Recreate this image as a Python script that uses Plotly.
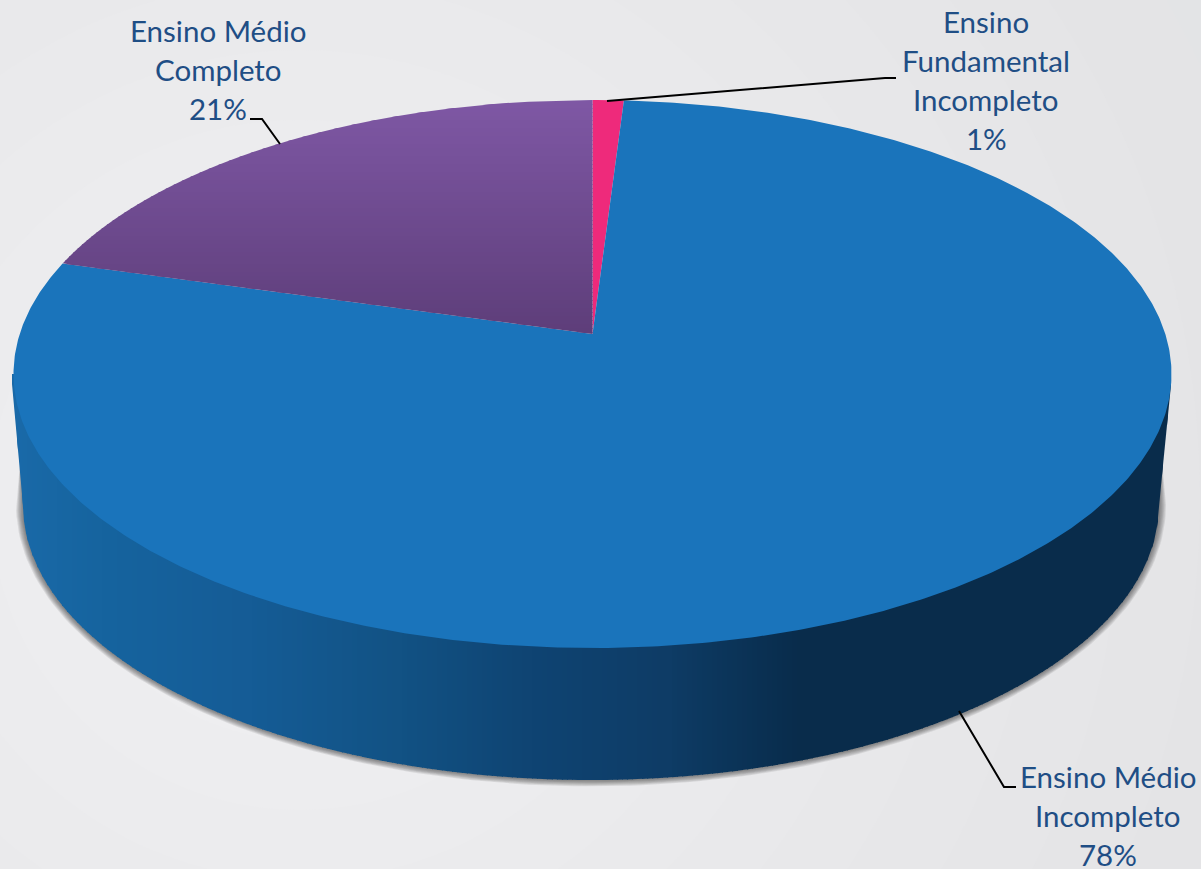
import numpy as np
import plotly.graph_objects as go

# ---- data ----
categories = ["Ensino Fundamental Incompleto", "Ensino Médio Incompleto", "Ensino Médio Completo"]
values = [1.0, 78.4, 20.6]
colors = ["#ee2a7b", "#1a74bb", "#7b57a1"]
label_lines = [
    ["Ensino", "Fundamental", "Incompleto", "1%"],
    ["Ensino Médio", "Incompleto", "78%"],
    ["Ensino Médio", "Completo", "21%"],
]
# ---- page geometry (pixels) ----
W, H = 1201, 869
CX, APEX_Y = 592.5, 334.0
TOP_Y, FRONT_Y = 100.0, 648.0
HALF_W = 579.0
up = APEX_Y - TOP_Y
dn = FRONT_Y - APEX_Y
K = (dn - up) / (dn + up)
B = up * (1 + K)
A = HALF_W * np.sqrt(1 - K * K)
BX, BY, BRX, BRY = 591.0, 505.0, 568.0, 275.0
label_pos = [(986, [21.5, 60.5, 99.5, 138.5]), (1108, [776.5, 815.5, 854.5]), (218, [30.5, 69.5, 108.5])]
leaders = [
    ([607, 885, 896], [101, 78, 78]),
    ([959, 1004, 1016], [711, 787, 787]),
    ([280, 262, 250], [144, 119, 119]),
]
TEXT = "#1f4e85"
wall_x = [12, 100, 250, 400, 530, 670, 800, 1201]
wall_rgb = [(26, 106, 169), (22, 100, 159), (21, 92, 150), (18, 82, 132),
            (15, 68, 115), (14, 60, 102), (9, 44, 75), (10, 44, 75)]
BG_C = (300, 500)
bg_r = [1000, 900, 820, 740, 660, 590, 520, 450, 380, 310, 240, 170]
bg_g = [228, 229, 230, 231, 232, 233, 234, 235, 236, 237, 238, 239]


def proj(theta):
    u, v = np.sin(theta), np.cos(theta)
    d = 1 + K * v
    return CX + A * u / d, APEX_Y - B * v / d


def add_poly(fig, x, y, color):
    fig.add_trace(go.Scatter(x=list(x), y=list(y), mode="lines", fill="toself", fillcolor=color,
                             line=dict(width=0), hoverinfo="skip", showlegend=False))


fig = go.Figure()

# shadow under the wall
s = np.linspace(np.pi, 0, 160)
for d in range(7, 0, -1):
    ox = BX + (BRX + d) * np.cos(s)
    oy = BY + (BRY + d * 0.9) * np.sin(s)
    px = np.r_[21, ox, 1161]
    py = np.r_[450, oy, 450]
    add_poly(fig, px, py, "rgba(50,50,50,0.10)")

# side wall, shaded strip by strip
edges = np.arange(12, 1172, 5.0)
for x0 in edges:
    x1 = min(x0 + 6, 1171)
    xs = np.linspace(x0, x1, 4)
    inner = np.clip((xs - BX) / BRX, -1, 1)
    ybot = BY + BRY * np.sqrt(1 - inner ** 2)
    ybot = np.where(xs < BX - BRX, 395 + (xs - 13) * 11, ybot)
    ybot = np.where(xs > BX + BRX, 505 - (xs - 1159) * 10, ybot)
    mid = x0 + 3
    rgb = [int(np.interp(mid, wall_x, [c[i] for c in wall_rgb])) for i in range(3)]
    add_poly(fig, np.r_[xs, xs[::-1]], np.r_[np.full(4, 374.0), ybot[::-1]], f"rgb({rgb[0]},{rgb[1]},{rgb[2]})")

# top face: wedges from the values, clockwise from 12 o'clock
fracs = np.array(values, dtype=float) / sum(values)
starts = np.r_[0, np.cumsum(fracs)[:-1]] * 2 * np.pi
ends = np.cumsum(fracs) * 2 * np.pi
for st, en, c, cat in zip(starts, ends, colors, categories):
    n = max(8, int((en - st) * 120))
    t = np.linspace(st, en, n)
    ex, ey = proj(t)
    if cat != "Ensino Médio Completo":
        add_poly(fig, np.r_[CX, ex, CX], np.r_[APEX_Y, ey, APEX_Y], c)
    else:
        # vertical gradient drawn as thin horizontal bands clipped to the wedge
        chord_y = np.linspace(ey[0], APEX_Y, 40)
        chord_x = ex[0] + (CX - ex[0]) * (chord_y - ey[0]) / (APEX_Y - ey[0])
        order = np.argsort(ey)
        ly = np.r_[ey[order], chord_y[1:]]
        lx = np.r_[ex[order], chord_x[1:]]
        order = np.argsort(ly)
        ly, lx = ly[order], lx[order]
        top_c, bot_c = (127, 88, 165), (94, 62, 122)
        bands = np.arange(TOP_Y, APEX_Y, 4.0)
        for y0 in bands:
            y1 = min(y0 + 5, APEX_Y)
            yy = np.linspace(y0, y1, 4)
            xx = np.interp(yy, ly, lx)
            f = (y0 + 2 - TOP_Y) / (APEX_Y - TOP_Y)
            rgb = [int(top_c[i] + (bot_c[i] - top_c[i]) * f) for i in range(3)]
            add_poly(fig, np.r_[xx, np.full(4, CX)], np.r_[yy, yy[::-1]], f"rgb({rgb[0]},{rgb[1]},{rgb[2]})")

# leader lines
for lx, ly in leaders:
    fig.add_trace(go.Scatter(x=lx, y=ly, mode="lines", line=dict(color="#000000", width=2),
                             hoverinfo="skip", showlegend=False))

# labels
ann = []
for lines, (px, ys) in zip(label_lines, label_pos):
    for line, py in zip(lines, ys):
        ann.append(dict(x=px, y=py, text=line, showarrow=False, xanchor="center", yanchor="middle",
                        font=dict(family="Lato", size=29.5, color=TEXT)))

shapes = []
for r, g in zip(bg_r, bg_g):
    shapes.append(dict(type="circle", layer="below", x0=BG_C[0] - r, x1=BG_C[0] + r,
                       y0=BG_C[1] - r, y1=BG_C[1] + r, line=dict(width=0),
                       fillcolor=f"rgb({g},{g},{g + 2})"))

fig.update_layout(
    width=W, height=H, margin=dict(l=0, r=0, t=0, b=0),
    paper_bgcolor="rgb(227,228,230)", plot_bgcolor="rgba(0,0,0,0)",
    xaxis=dict(range=[0, W], visible=False, fixedrange=True),
    yaxis=dict(range=[H, 0], visible=False, fixedrange=True),
    annotations=ann, shapes=shapes, showlegend=False,
)
fig.write_html("out.html", config={"displayModeBar": False},
               post_script="document.body.style.margin='0';document.documentElement.style.overflow='hidden';")
